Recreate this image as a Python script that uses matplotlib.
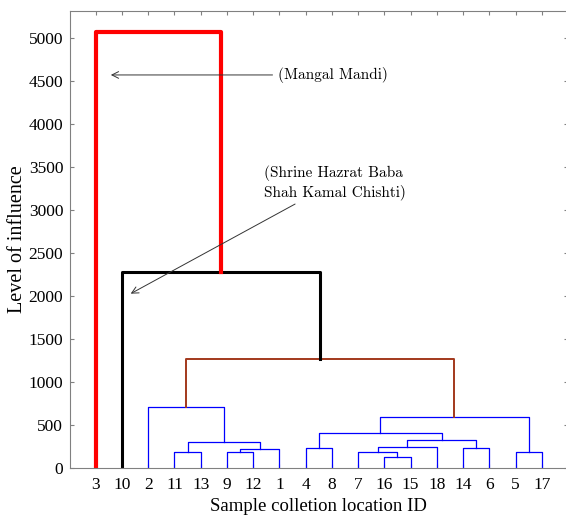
import matplotlib
matplotlib.use("Agg")
import matplotlib.pyplot as plt

# leaf order along the x axis
leaf_labels = ["3", "10", "2", "11", "13", "9", "12", "1", "4", "8",
               "7", "16", "15", "18", "14", "6", "5", "17"]

# merges: name, left child, right child, height
link_names = ["A", "B", "C", "D", "E", "F", "G", "H", "I", "J",
              "K", "L", "M", "N", "O", "P", "Q"]
link_left = ["11", "9", "B", "A", "2", "4", "16", "7", "H", "14",
             "I", "F", "5", "L", "E", "10", "3"]
link_right = ["13", "12", "1", "C", "D", "8", "15", "G", "18", "6",
              "J", "K", "17", "M", "N", "O", "P"]
link_height = [193, 186, 224, 306, 709, 240, 135, 193, 248, 240,
               333, 407, 193, 597, 1267, 2279, 5077]

styles = {"O": ("#a2381c", 1.4), "P": ("black", 2.2), "Q": ("red", 3.0)}

plt.rcParams['font.family'] = ['Liberation Serif', 'DejaVu Serif']

fig = plt.figure(figsize=(5.66, 5.17), dpi=100)
ax = fig.add_axes([69.5 / 566, 1 - 468.3 / 517, (568 - 69.5) / 566, (468.3 - 10.7) / 517])

xpos = {lab: i + 1 for i, lab in enumerate(leaf_labels)}
ypos = {lab: 0 for lab in leaf_labels}
for name, l, r, h in zip(link_names, link_left, link_right, link_height):
    color, lw = styles.get(name, ("blue", 0.9))
    xl, xr = xpos[l], xpos[r]
    ax.plot([xl, xl, xr, xr], [ypos[l], h, h, ypos[r]], color=color, lw=lw)
    xpos[name] = (xl + xr) / 2
    ypos[name] = h

ax.set_xlim(0, 19)
ax.set_ylim(0, 5320)
ax.set_xticks(range(1, len(leaf_labels) + 1))
ax.set_xticklabels(leaf_labels)
ax.set_yticks(range(0, 5001, 500))
ax.tick_params(direction='in', top=True, right=True, length=3, color='gray',
               labelsize=12.5, pad=6)
ax.tick_params(axis='y', pad=4.5)
for s in ax.spines.values():
    s.set_color('gray')
    s.set_linewidth(0.8)

ax.set_xlabel("Sample colletion location ID", fontsize=13.5, labelpad=4)
ax.set_ylabel("Level of influence", fontsize=14.5, labelpad=1)

arrow = dict(arrowstyle='->', color='#333333', lw=0.7, mutation_scale=12)
ax.annotate("(Mangal Mandi)", xy=(1.47, 4573), xytext=(7.95, 4573),
            fontsize=11, family='cmr10', va='center', ha='left',
            arrowprops=arrow)
ax.annotate("(Shrine Hazrat Baba\nShah Kamal Chishti)", xy=(2.24, 2015),
            xytext=(7.4, 3120), fontsize=11, family='cmr10',
            va='bottom', ha='left', linespacing=1.3, arrowprops=arrow)

fig.savefig("out.png", dpi=100)
